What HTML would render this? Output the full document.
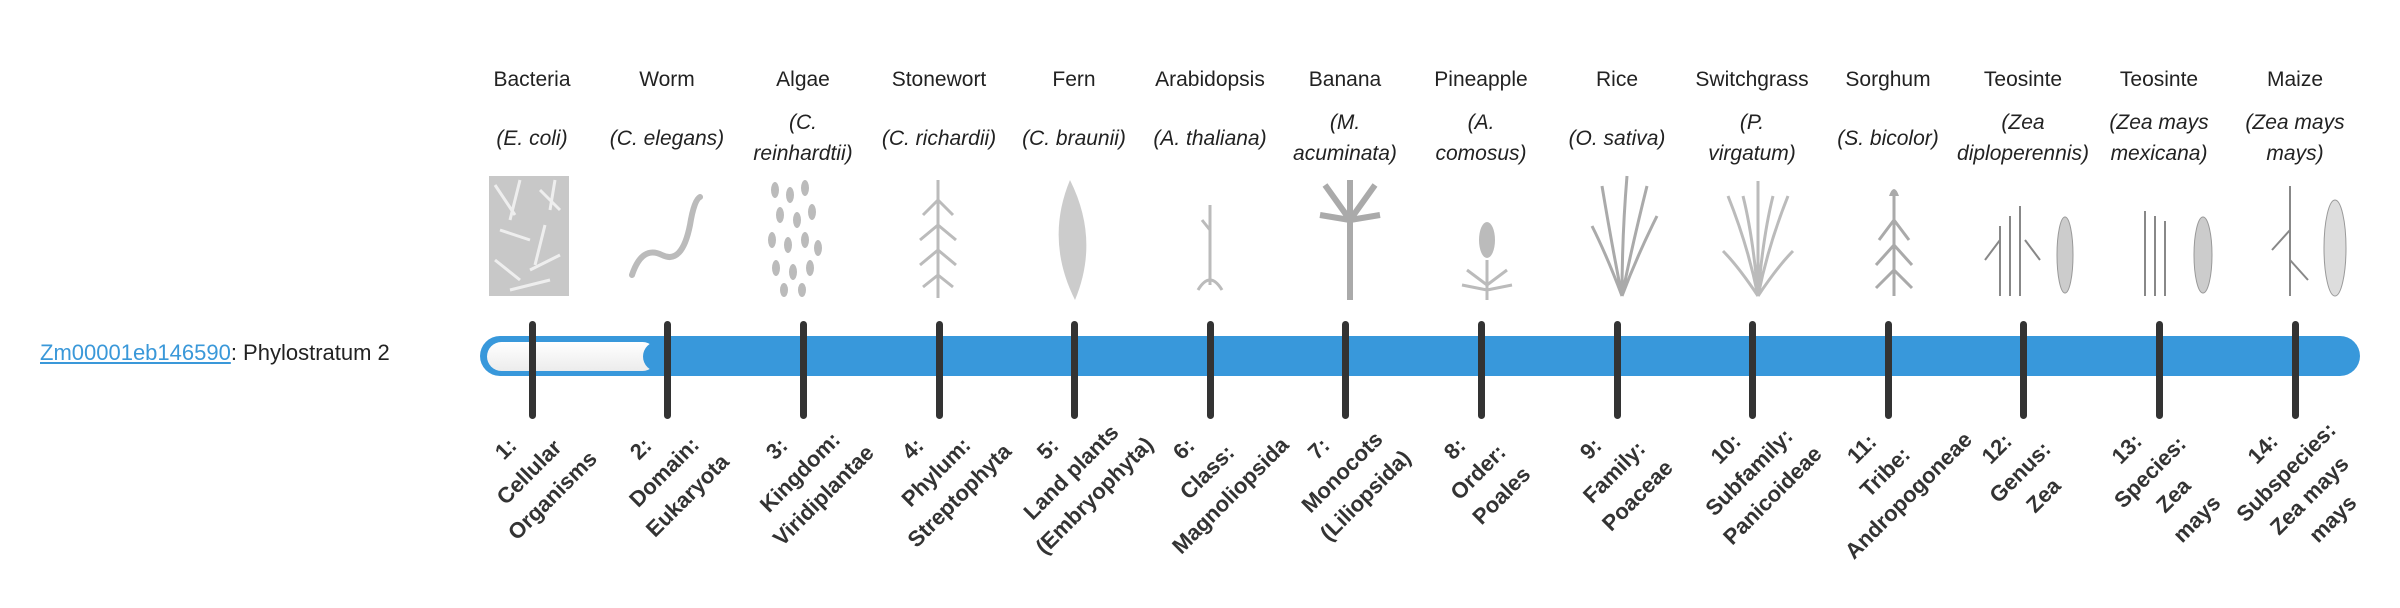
<!DOCTYPE html>
<html><head><meta charset="utf-8"><style>
body{margin:0;width:2400px;height:580px;background:#fff;position:relative;overflow:hidden;font-family:"Liberation Sans",sans-serif;color:#222}
.c{position:absolute;width:134px;text-align:center;font-size:21px;white-space:nowrap}
.n{top:68px}
.s{font-style:italic;line-height:31px;display:flex;align-items:center;justify-content:center;height:70px;top:103px}
.l{position:absolute;width:220px;text-align:center;font-weight:bold;font-size:22px;line-height:33px;color:#333;transform-origin:50% 0;transform:rotate(-45deg);top:437px}
#z{position:absolute;left:40px;top:340px;font-size:22px}
#z a{color:#3a98d9;text-decoration:underline}
</style></head><body>
<div id="z"><a>Zm00001eb146590</a>: Phylostratum 2</div>
<svg width="2400" height="580" style="position:absolute;left:0;top:0">
<defs><linearGradient id="g" x1="0" y1="0" x2="0" y2="1"><stop offset="0" stop-color="#fff"/><stop offset="1" stop-color="#ececec"/></linearGradient></defs>
<rect x="480" y="336" width="1880" height="40" rx="20" fill="#3898db"/>
<rect x="487" y="342" width="170" height="29" rx="14.5" fill="url(#g)"/>
<circle cx="658" cy="356.5" r="15" fill="#3898db"/>
<g fill="#aaa" stroke="#999" stroke-width="1">
<rect x="489" y="176" width="80" height="120" fill="#c8c8c8" stroke="none"/>
<g stroke="#eee" stroke-width="3" fill="none"><path d="M495 185 l20 30 M520 180 l-10 40 M540 190 l20 20 M500 230 l30 10 M545 225 l-10 40 M495 260 l25 20 M530 270 l30 -15 M555 180 l-5 30 M510 290 l40 -10"/></g>
<path d="M632 275 q10 -30 30 -20 q20 10 28 -30 q4 -25 10 -28" fill="none" stroke="#bbb" stroke-width="6" stroke-linecap="round"/>
</g>
<g fill="#bbb">
<g><ellipse cx="775" cy="190" rx="4" ry="8"/><ellipse cx="790" cy="195" rx="4" ry="8"/><ellipse cx="805" cy="188" rx="4" ry="8"/><ellipse cx="780" cy="215" rx="4" ry="8"/><ellipse cx="797" cy="220" rx="4" ry="8"/><ellipse cx="812" cy="212" rx="4" ry="8"/><ellipse cx="772" cy="240" rx="4" ry="8"/><ellipse cx="788" cy="245" rx="4" ry="8"/><ellipse cx="805" cy="240" rx="4" ry="8"/><ellipse cx="818" cy="248" rx="4" ry="8"/><ellipse cx="776" cy="268" rx="4" ry="8"/><ellipse cx="793" cy="272" rx="4" ry="8"/><ellipse cx="810" cy="268" rx="4" ry="8"/><ellipse cx="784" cy="290" rx="4" ry="7"/><ellipse cx="802" cy="290" rx="4" ry="7"/></g>
</g>
<g fill="none" stroke="#bbb" stroke-width="3">
<path d="M938 180 v118 M938 200 l-15 15 M938 200 l15 15 M938 225 l-18 15 M938 225 l18 15 M938 250 l-18 15 M938 250 l18 15 M938 275 l-15 12 M938 275 l15 12"/>
<path d="M1210 205 v80 M1210 230 l-8 -10 M1198 290 q12 -20 24 0"/>
<path d="M1350 300 v-80 M1350 220 l-25 -35 M1350 220 l25 -35 M1350 220 l0 -40 M1350 220 l-30 -5 M1350 220 l30 -5" stroke="#aaa" stroke-width="6"/>
<path d="M1487 300 v-40 M1487 285 l-20 -15 M1487 285 l20 -15 M1487 290 l-25 -5 M1487 290 l25 -5"/>
<path d="M1622 296 q-10 -50 -20 -110 M1622 296 q0 -60 5 -120 M1622 296 q10 -50 25 -110 M1622 296 q15 -40 35 -80 M1622 296 q-15 -40 -30 -70" stroke="#aaa"/>
<path d="M1758 296 q-10 -50 -30 -100 M1758 296 v-115 M1758 296 q10 -50 30 -100 M1758 296 q-20 -30 -35 -45 M1758 296 q20 -30 35 -45 M1758 296 q-5 -60 -15 -100 M1758 296 q5 -60 15 -100" stroke="#bbb" stroke-width="3"/>
<path d="M1894 296 v-100 M1894 220 l-15 20 M1894 220 l15 20 M1894 245 l-18 20 M1894 245 l18 20 M1894 270 l-18 18 M1894 270 l18 18" stroke="#aaa" stroke-width="3"/>
<path d="M2010 296 v-80 M2020 296 v-90 M2000 296 v-70 M2000 240 l-15 20 M2025 240 l15 20 M2155 296 v-80 M2145 296 v-85 M2165 296 v-75 M2290 296 v-110 M2290 230 l-18 20 M2290 260 l18 20" stroke="#888" stroke-width="2"/>
</g>
<path d="M1889 196 q5 -14 10 0 z" fill="#aaa"/>
<ellipse cx="1487" cy="240" rx="8" ry="18" fill="#bbb"/>
<path d="M1075 300 q-30 -60 -5 -120 q30 60 5 120 z" fill="#ccc"/>
<g fill="#ccc" stroke="#999"><ellipse cx="2065" cy="255" rx="8" ry="38"/><ellipse cx="2203" cy="255" rx="9" ry="38"/><ellipse cx="2335" cy="248" rx="11" ry="48" fill="#ddd"/></g>
<g fill="#333">
<rect x="529" y="321" width="7" height="98" rx="3.5"/><rect x="664" y="321" width="7" height="98" rx="3.5"/><rect x="800" y="321" width="7" height="98" rx="3.5"/><rect x="936" y="321" width="7" height="98" rx="3.5"/><rect x="1071" y="321" width="7" height="98" rx="3.5"/><rect x="1207" y="321" width="7" height="98" rx="3.5"/><rect x="1342" y="321" width="7" height="98" rx="3.5"/><rect x="1478" y="321" width="7" height="98" rx="3.5"/><rect x="1614" y="321" width="7" height="98" rx="3.5"/><rect x="1749" y="321" width="7" height="98" rx="3.5"/><rect x="1885" y="321" width="7" height="98" rx="3.5"/><rect x="2020" y="321" width="7" height="98" rx="3.5"/><rect x="2156" y="321" width="7" height="98" rx="3.5"/><rect x="2292" y="321" width="7" height="98" rx="3.5"/>
</g>
</svg>

<div class="c n" style="left:465px">Bacteria</div><div class="c s" style="left:465px">(E. coli)</div>
<div class="c n" style="left:600px">Worm</div><div class="c s" style="left:600px">(C. elegans)</div>
<div class="c n" style="left:736px">Algae</div><div class="c s" style="left:736px">(C.<br>reinhardtii)</div>
<div class="c n" style="left:872px">Stonewort</div><div class="c s" style="left:872px">(C. richardii)</div>
<div class="c n" style="left:1007px">Fern</div><div class="c s" style="left:1007px">(C. braunii)</div>
<div class="c n" style="left:1143px">Arabidopsis</div><div class="c s" style="left:1143px">(A. thaliana)</div>
<div class="c n" style="left:1278px">Banana</div><div class="c s" style="left:1278px">(M.<br>acuminata)</div>
<div class="c n" style="left:1414px">Pineapple</div><div class="c s" style="left:1414px">(A.<br>comosus)</div>
<div class="c n" style="left:1550px">Rice</div><div class="c s" style="left:1550px">(O. sativa)</div>
<div class="c n" style="left:1685px">Switchgrass</div><div class="c s" style="left:1685px">(P.<br>virgatum)</div>
<div class="c n" style="left:1821px">Sorghum</div><div class="c s" style="left:1821px">(S. bicolor)</div>
<div class="c n" style="left:1956px">Teosinte</div><div class="c s" style="left:1956px">(Zea<br>diploperennis)</div>
<div class="c n" style="left:2092px">Teosinte</div><div class="c s" style="left:2092px">(Zea mays<br>mexicana)</div>
<div class="c n" style="left:2228px">Maize</div><div class="c s" style="left:2228px">(Zea mays<br>mays)</div>

<div class="l" style="left:384px">1:<br>Cellular<br>Organisms</div>
<div class="l" style="left:519px">2:<br>Domain:<br>Eukaryota</div>
<div class="l" style="left:655px">3:<br>Kingdom:<br>Viridiplantae</div>
<div class="l" style="left:791px">4:<br>Phylum:<br>Streptophyta</div>
<div class="l" style="left:926px">5:<br>Land plants<br>(Embryophyta)</div>
<div class="l" style="left:1062px">6:<br>Class:<br>Magnoliopsida</div>
<div class="l" style="left:1197px">7:<br>Monocots<br>(Liliopsida)</div>
<div class="l" style="left:1333px">8:<br>Order:<br>Poales</div>
<div class="l" style="left:1469px">9:<br>Family:<br>Poaceae</div>
<div class="l" style="left:1604px">10:<br>Subfamily:<br>Panicoideae</div>
<div class="l" style="left:1740px">11:<br>Tribe:<br>Andropogoneae</div>
<div class="l" style="left:1875px">12:<br>Genus:<br>Zea</div>
<div class="l" style="left:2005px">13:<br>Species:<br>Zea<br>mays</div>
<div class="l" style="left:2141px">14:<br>Subspecies:<br>Zea mays<br>mays</div>
</body></html>
